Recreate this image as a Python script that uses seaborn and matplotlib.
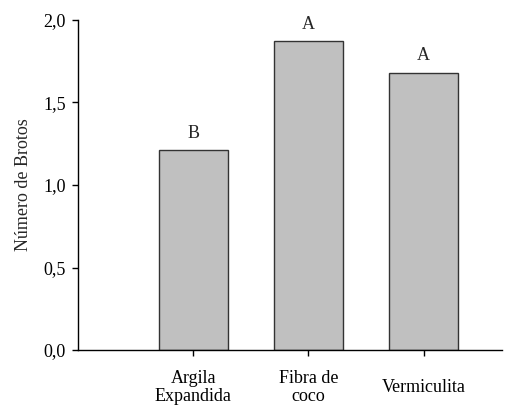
import numpy as np
import pandas as pd
import seaborn as sns
import matplotlib
matplotlib.use("Agg")
import matplotlib.pyplot as plt
from matplotlib.ticker import FuncFormatter

substratos = ["Argila\nExpandida", "Fibra de\ncoco", "Vermiculita"]
brotos = [1.21, 1.87, 1.68]
letras = ["B", "A", "A"]

sns.set_style("ticks")
plt.rcParams['font.family'] = ['Liberation Serif', 'DejaVu Serif']

df = pd.DataFrame({"substrato": substratos, "brotos": brotos})

fig = plt.figure(figsize=(5.24, 4.07), dpi=100)
ax = fig.add_axes([0.149, 0.14, 0.809, 0.811])

sns.barplot(data=df, x="substrato", y="brotos", color="#c0c0c0",
            edgecolor="#333333", linewidth=1, width=0.6, saturation=1, ax=ax)

for i, (v, l) in enumerate(zip(brotos, letras)):
    ax.annotate(l, (i, v), xytext=(0, 6), textcoords="offset points",
                ha="center", va="bottom", fontsize=13)

ax.set_xlim(-1.0, 2.68)
ax.set_ylim(0, 2.0)
ax.set_yticks(np.arange(0, 2.01, 0.5))
ax.yaxis.set_major_formatter(FuncFormatter(lambda v, p: f"{v:.1f}".replace(".", ",")))
ax.set_xlabel("")
ax.set_ylabel("Número de Brotos", fontsize=13, labelpad=8)

ax.tick_params(axis="both", direction="out", length=4, width=1, colors="black", labelsize=13)
ax.tick_params(axis="y", pad=5)
ax.tick_params(axis="x", pad=23)
for t in ax.get_xticklabels():
    t.set_verticalalignment("center")
    t.set_multialignment("center")
    t.set_linespacing(1.15)

for s in ["top", "right"]:
    ax.spines[s].set_visible(False)
for s in ["left", "bottom"]:
    ax.spines[s].set_color("black")
    ax.spines[s].set_linewidth(1)

fig.savefig("out.png", dpi=100)
